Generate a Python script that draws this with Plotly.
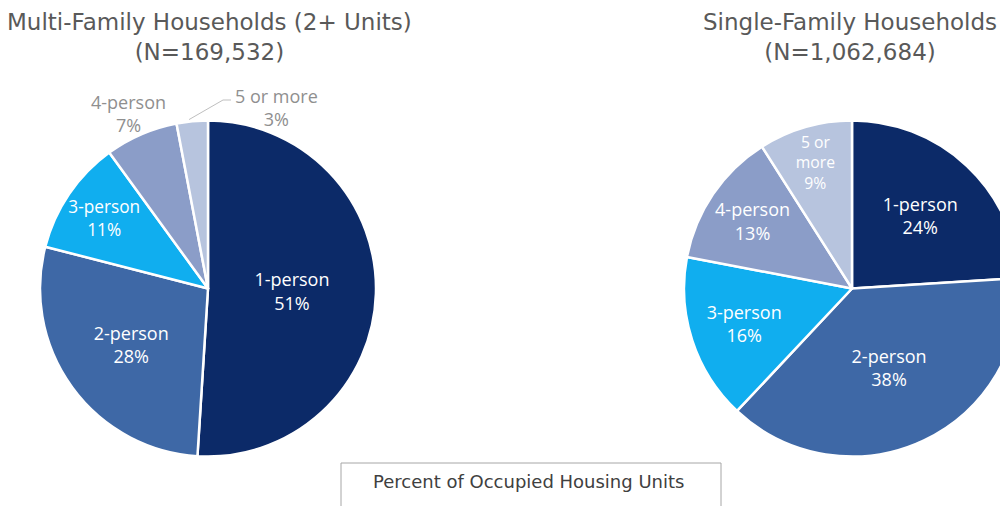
import math
import plotly.graph_objects as go

categories = ["1-person", "2-person", "3-person", "4-person", "5 or more"]
multi_family = [51, 28, 11, 7, 3]
single_family = [24, 38, 16, 13, 9]
multi_title = "Multi-Family Households (2+ Units)<br>(N=169,532)"
single_title = "Single-Family Households<br>(N=1,062,684)"
box_label = "Percent of Occupied Housing Units"

colors = ["#0c2a68", "#3e68a6", "#10aeef", "#8b9dc8", "#b7c4de"]
W, H = 1040, 506          # figure size (page shows it offset by the 8px body margin)
OFF = 8                   # body margin of the html page

def px(x):
    return (x - OFF) / W

def py(y):
    return 1 - (y - OFF) / H

def dom(cx, cy, r):
    return dict(x=[px(cx - r), px(cx + r)], y=[py(cy + r), py(cy - r)])

def texts(vals, wrap_last=False):
    out = []
    for c, v in zip(categories, vals):
        lab = "5 or<br>more" if (wrap_last and c == "5 or more") else c
        out.append(f"{lab}<br>{v}%")
    return out

L_CX, L_CY, R_CX, R_CY, RAD = 208, 288.5, 852, 288.5, 168
inside_font = dict(color="white", size=18, family="Open Sans")
outside_font = dict(color="#8f8f8f", size=18, family="Open Sans")

fig = go.Figure()
fig.add_trace(go.Pie(
    labels=categories, values=multi_family, sort=False, direction="clockwise", rotation=0,
    text=texts(multi_family), textinfo="text",
    textposition=["inside", "inside", "inside", "none", "none"],
    insidetextorientation="horizontal", insidetextfont=inside_font,
    marker=dict(colors=colors, line=dict(color="white", width=2.5)),
    domain=dom(L_CX, L_CY, RAD), showlegend=False, hoverinfo="label+percent",
))
fig.add_trace(go.Pie(
    labels=categories, values=single_family, sort=False, direction="clockwise", rotation=0,
    text=texts(single_family, wrap_last=True), textinfo="text",
    textposition="inside",
    insidetextorientation="horizontal", insidetextfont=inside_font,
    marker=dict(colors=colors, line=dict(color="white", width=2.5)),
    domain=dom(R_CX, R_CY, RAD), showlegend=False, hoverinfo="label+percent",
))

# outside labels of the multi-family pie
txt = texts(multi_family)
fig.add_annotation(x=px(128), y=py(113), xref="paper", yref="paper", text=txt[3],
                   showarrow=False, font=outside_font, xanchor="center", yanchor="middle")
fig.add_annotation(x=px(276), y=py(108), xref="paper", yref="paper", text=txt[4],
                   showarrow=False, font=outside_font, xanchor="center", yanchor="middle")
# leader for the "5 or more" slice, from its outer arc to the label
total = sum(multi_family)
mid = (sum(multi_family[:4]) + multi_family[4] * 0.4) / total * 2 * math.pi
tip_x = L_CX + RAD * math.sin(mid)
tip_y = L_CY - RAD * math.cos(mid) - 2
fig.add_shape(type="path", xref="paper", yref="paper",
              path=f"M {px(tip_x)},{py(tip_y)} L {px(223)},{py(100)} L {px(231)},{py(100)}",
              line=dict(color="#bfbfbf", width=1))

title_font = dict(size=23, color="#595959", family="DejaVu Sans")
fig.add_annotation(x=px(209), y=py(37), xref="paper", yref="paper", text=multi_title,
                   showarrow=False, font=title_font, xanchor="center", yanchor="middle")
fig.add_annotation(x=px(850), y=py(37), xref="paper", yref="paper", text=single_title,
                   showarrow=False, font=title_font, xanchor="center", yanchor="middle")

fig.add_shape(type="rect", xref="paper", yref="paper", x0=px(341), x1=px(721),
              y0=py(520), y1=py(463), line=dict(color="#a6a6a6", width=1), fillcolor="white")
fig.add_annotation(x=px(528), y=py(481), xref="paper", yref="paper", text=box_label,
                   showarrow=False, font=dict(size=18, color="#404040", family="DejaVu Sans"),
                   xanchor="center", yanchor="middle")

fig.update_layout(width=W, height=H, margin=dict(l=0, r=0, t=0, b=0),
                  paper_bgcolor="white", plot_bgcolor="white")
fig.write_html("out.html")
